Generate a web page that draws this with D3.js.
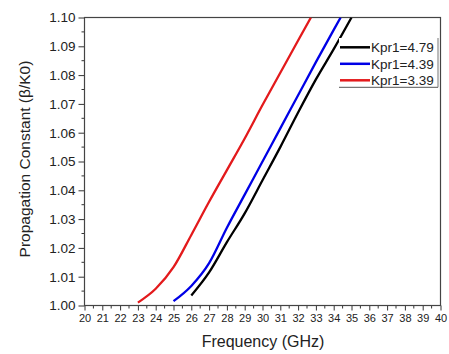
<!DOCTYPE html>
<html><head><meta charset="utf-8">
<script src="https://cdn.jsdelivr.net/npm/d3@7"></script>
<style>body{margin:0;background:#fff;} text{font-family:"Liberation Sans",Arial,sans-serif;}</style>
</head><body><svg id="c" width="449" height="354"></svg>
<script>
const seriesNames = ["Kpr1=4.79", "Kpr1=4.39", "Kpr1=3.39"];
const seriesColors = ["#000000", "#0000e6", "#e31a1c"];
const freqBlack = [26, 27, 28, 29, 30, 31, 32, 33, 34, 35];
const valBlack  = [1.0035, 1.0115, 1.022, 1.032, 1.0435, 1.055, 1.067, 1.0785, 1.089, 1.100];
const freqBlue  = [25, 26, 27, 28, 29, 30, 31, 32, 33, 34, 34.39];
const valBlue   = [1.0015, 1.0068, 1.0147, 1.027, 1.0385, 1.050, 1.0615, 1.073, 1.0845, 1.0957, 1.100];
const freqRed   = [23, 24, 25, 26, 27, 28, 29, 30, 31, 32, 32.72];
const valRed    = [1.001, 1.0058, 1.0133, 1.0245, 1.036, 1.047, 1.058, 1.0696, 1.0808, 1.092, 1.100];
const xTicks = d3.range(20, 41, 1);
const yTicks = [1.00, 1.01, 1.02, 1.03, 1.04, 1.05, 1.06, 1.07, 1.08, 1.09, 1.10];

const svg = d3.select("#c");
const L = 84.5, R = 440.5, T = 17.5, B = 305.5;
const x = d3.scaleLinear().domain([20, 40]).range([L, R]);
const y = d3.scaleLinear().domain([1.00, 1.10]).range([B, T]);

// minor ticks
const xMinor = d3.range(20.5, 40, 1);
const yMinor = d3.range(1.005, 1.1, 0.01);
svg.append("g").selectAll("line").data(xMinor).join("line")
  .attr("x1", d => x(d)).attr("x2", d => x(d)).attr("y1", B).attr("y2", B + 3)
  .attr("stroke", "#333").attr("stroke-width", 1);
svg.append("g").selectAll("line").data(yMinor).join("line")
  .attr("x1", L - 3).attr("x2", L).attr("y1", d => y(d)).attr("y2", d => y(d))
  .attr("stroke", "#333").attr("stroke-width", 1);

const xAxis = svg.append("g").attr("transform", `translate(0,${B})`)
  .call(d3.axisBottom(x).tickValues(xTicks).tickFormat(d3.format("d")).tickSize(5).tickPadding(4));
xAxis.selectAll("text").attr("font-size", "11px").attr("fill", "#222");
const yAxis = svg.append("g").attr("transform", `translate(${L},0)`)
  .call(d3.axisLeft(y).tickValues(yTicks).tickFormat(d3.format(".2f")).tickSize(6).tickPadding(3));
yAxis.selectAll("text").attr("font-size", "13.5px").attr("fill", "#222");
[xAxis, yAxis].forEach(a => { a.selectAll("path,line").attr("stroke", "#333"); a.select(".domain").remove(); });

// frame
svg.append("rect").attr("x", L).attr("y", T).attr("width", R - L).attr("height", B - T)
  .attr("fill", "none").attr("stroke", "#444").attr("stroke-width", 1.2);

const data = [
  freqBlack.map((f, i) => [f, valBlack[i]]),
  freqBlue.map((f, i) => [f, valBlue[i]]),
  freqRed.map((f, i) => [f, valRed[i]])
];
const line = d3.line().curve(d3.curveMonotoneX).x(d => x(d[0])).y(d => y(d[1]));
svg.append("clipPath").attr("id", "pc").append("rect")
  .attr("x", L).attr("y", T).attr("width", R - L).attr("height", B - T);
svg.append("g").attr("clip-path", "url(#pc)").selectAll("path").data(data).join("path")
  .attr("d", line).attr("fill", "none")
  .attr("stroke", (d, i) => seriesColors[i]).attr("stroke-width", 2.3);

// legend
const lg = svg.append("g");
lg.append("rect").attr("x", 339).attr("y", 38).attr("width", 99).attr("height", 49)
  .attr("fill", "#fff").attr("stroke", "none");
lg.append("line").attr("x1", 339).attr("x2", 438).attr("y1", 87.3).attr("y2", 87.3).attr("stroke", "#555");
lg.append("line").attr("x1", 438).attr("x2", 438).attr("y1", 38).attr("y2", 87.3).attr("stroke", "#777");
seriesNames.forEach((n, i) => {
  const yy = 47.3 + i * 16.5;
  lg.append("line").attr("x1", 340).attr("x2", 370).attr("y1", yy).attr("y2", yy)
    .attr("stroke", seriesColors[i]).attr("stroke-width", 2.5);
  lg.append("text").attr("x", 371).attr("y", yy + 4.7).attr("font-size", "13.5px").attr("fill", "#222").text(n);
});

// titles
svg.append("text").attr("x", 263).attr("y", 347).attr("text-anchor", "middle")
  .attr("font-size", "16px").attr("fill", "#222").text("Frequency (GHz)");
svg.append("text").attr("transform", "translate(30,159) rotate(-90)").attr("text-anchor", "middle")
  .attr("font-size", "15.5px").attr("fill", "#222").text("Propagation Constant (β/K0)");
</script></body></html>
